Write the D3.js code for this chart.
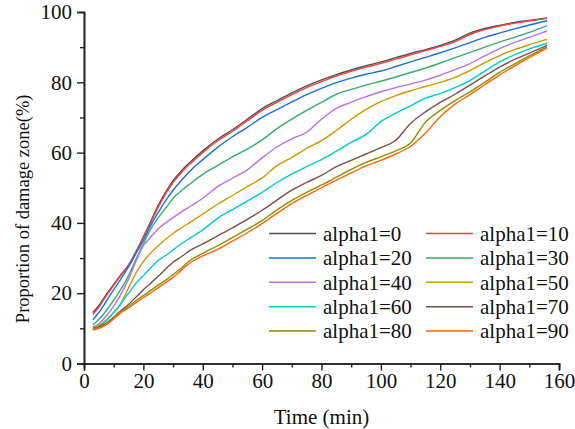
<!DOCTYPE html>
<html>
<head>
<meta charset="utf-8">
<script src="https://cdn.jsdelivr.net/npm/d3@7"></script>
<style>
  html, body { margin: 0; padding: 0; background: #fff; }
  svg { display: block; }
</style>
</head>
<body>
<svg id="chart" width="575" height="429"></svg>
<script>
const times = [3,5,7,10,12,15,18,20,22,25,28,30,33,36,40,45,50,55,60,65,70,75,80,85,90,95,100,105,110,115,120,125,130,135,140,145,150,156];

const a0  = [14.5,16.5,19.0,22.5,24.8,28.0,32.5,36.0,39.5,45.0,49.5,52.0,55.0,57.5,60.5,63.8,66.5,69.5,72.5,74.8,77.0,79.0,80.7,82.2,83.5,84.7,85.8,87.0,88.2,89.3,90.5,92.0,94.0,95.3,96.2,97.0,97.6,98.3];
const a10 = [14.0,16.0,18.6,22.2,24.6,28.0,32.6,36.0,39.2,44.5,49.0,51.5,54.5,57.0,60.0,63.3,66.0,69.0,72.0,74.3,76.5,78.5,80.2,81.8,83.1,84.3,85.4,86.6,87.8,89.0,90.2,91.6,93.6,95.0,96.0,96.8,97.5,98.2];
const a20 = [12.4,14.5,17.0,21.0,23.5,27.5,32.0,35.0,38.5,43.0,47.0,49.3,52.3,55.0,58.0,61.5,64.5,67.2,70.0,72.2,74.4,76.5,78.3,79.9,81.2,82.3,83.2,84.5,85.8,87.1,88.4,89.8,91.3,92.8,94.0,95.2,96.3,97.5];
const a30 = [11.0,12.5,14.5,18.0,20.5,25.0,30.5,34.0,37.5,41.5,44.7,47.0,49.3,51.3,53.8,56.3,58.8,61.0,63.6,66.8,69.5,72.0,74.3,76.6,78.0,79.2,80.3,81.5,82.8,84.0,85.5,87.0,88.5,90.0,91.5,92.8,94.2,96.1];
const a40 = [10.4,11.3,13.0,16.3,19.0,24.0,30.0,33.5,35.5,38.3,40.3,41.5,43.2,44.8,47.0,50.3,52.7,55.1,58.5,61.6,63.9,65.8,69.5,72.6,74.3,75.9,77.3,78.5,79.5,80.6,82.0,83.6,85.3,87.5,89.6,91.3,92.8,94.6];
const a50 = [10.0,10.8,12.0,14.5,16.5,21.5,26.5,29.0,31.0,33.5,35.7,37.0,38.7,40.3,42.5,45.3,47.8,50.3,52.8,56.3,58.6,61.2,63.4,66.3,69.5,72.3,74.5,76.2,77.6,78.8,80.0,81.4,83.3,85.6,87.6,89.3,90.7,92.2];
const a60 = [9.8,10.5,11.8,14.5,16.5,20.0,23.3,25.0,26.8,29.3,31.0,32.3,34.2,35.8,38.0,41.3,43.8,46.2,48.7,51.5,53.9,56.0,58.0,60.4,62.9,65.2,68.8,71.2,73.3,75.5,76.8,78.5,80.5,83.2,85.8,87.8,89.5,91.1];
const a70 = [10.0,10.5,11.2,13.2,14.7,16.8,19.3,21.0,22.5,24.8,27.3,28.8,30.5,32.3,34.0,36.3,38.6,41.0,43.6,46.5,49.3,51.5,53.5,56.0,57.8,59.6,61.4,63.5,68.3,71.6,74.3,76.6,79.2,81.8,84.3,86.5,88.3,90.5];
const a80 = [9.8,10.3,11.0,13.0,14.5,16.2,18.2,19.3,20.5,22.3,24.0,25.3,27.3,29.5,31.3,33.5,35.8,38.2,40.7,43.7,46.4,48.7,50.8,53.0,55.2,57.2,58.8,60.5,62.7,68.6,72.0,74.8,77.3,80.0,82.8,85.2,87.5,90.1];
const a90 = [9.5,10.0,10.8,12.7,14.2,15.8,17.6,18.7,19.8,21.6,23.3,24.5,26.7,28.8,30.6,32.5,34.8,37.2,39.8,42.7,45.5,47.8,50.0,52.2,54.2,56.2,57.8,59.6,61.8,65.5,70.2,73.8,76.5,79.3,82.1,84.6,87.0,89.8];

const seriesNames = ["alpha1=0","alpha1=10","alpha1=20","alpha1=30","alpha1=40","alpha1=50","alpha1=60","alpha1=70","alpha1=80","alpha1=90"];
const seriesValues = [a0,a10,a20,a30,a40,a50,a60,a70,a80,a90];
const colors = ["#515151","#F14040","#1A6FDF","#37AD6B","#B177DE","#CC9900","#00CBCC","#7D4E4E","#8E8E00","#FB6501"];
const xTicks = [0,20,40,60,80,100,120,140,160];
const yTicks = [0,20,40,60,80,100];
const xTitle = "Time (min)";
const yTitle = "Proportion of damage zone(%)";

const FONT = '"Liberation Serif"';
const svg = d3.select("#chart");
const x = d3.scaleLinear().domain([0,160]).range([84,559]);
const y = d3.scaleLinear().domain([0,100]).range([363.5,12]);

// lines
const line = d3.line().x(d => x(d[0])).y(d => y(d[1])).curve(d3.curveMonotoneX);
seriesValues.forEach((vals, i) => {
  svg.append("path")
    .datum(times.map((t, j) => [t, vals[j]]))
    .attr("fill", "none")
    .attr("stroke", colors[i])
    .attr("stroke-width", 1.4)
    .attr("d", line);
});

// axes
const fontSize = 21;
const xAxis = d3.axisBottom(x).tickValues(xTicks).tickSize(7).tickPadding(3).tickFormat(d3.format("d"));
const xMinor = d3.axisBottom(x).tickValues(d3.range(10,160,20)).tickSize(4).tickFormat("");
const yAxis = d3.axisLeft(y).tickValues(yTicks).tickSize(7).tickPadding(5).tickFormat(d3.format("d"));
const yMinor = d3.axisLeft(y).tickValues(d3.range(10,100,20)).tickSize(4).tickFormat("");

function styleAxis(g) {
  g.attr("font-family", null).attr("font-size", null);
  g.select(".domain").attr("stroke", "#222").attr("stroke-width", 1.6);
  g.selectAll(".tick line").attr("stroke", "#222").attr("stroke-width", 1.4);
  g.selectAll(".tick text").style("font-family", FONT).style("font-size", fontSize + "px").attr("fill", "#111");
}
svg.append("g").attr("transform", `translate(0,${y(0)})`).call(xAxis).call(styleAxis);
svg.append("g").attr("transform", `translate(0,${y(0)})`).call(xMinor).call(styleAxis);
svg.append("g").attr("transform", `translate(${x(0)},0)`).call(yAxis).call(styleAxis);
svg.append("g").attr("transform", `translate(${x(0)},0)`).call(yMinor).call(styleAxis);

// titles
svg.append("text").attr("x", x(80)).attr("y", 424).attr("text-anchor", "middle")
  .style("font-family", FONT).style("font-size", fontSize + "px").attr("fill", "#111").text(xTitle);
svg.append("text").attr("transform", `translate(29,${y(44)}) rotate(-90)`)
  .attr("text-anchor", "middle").style("font-family", FONT).style("font-size", "18.5px")
  .attr("fill", "#111").text(yTitle);

// legend
const legend = svg.append("g");
seriesNames.forEach((name, i) => {
  const col = i % 2, row = Math.floor(i / 2);
  const lx = col === 0 ? 269 : 426;
  const ly = 233.5 + row * 24.4;
  legend.append("line").attr("x1", lx).attr("x2", lx + 47).attr("y1", ly).attr("y2", ly)
    .attr("stroke", colors[i]).attr("stroke-width", 1.5);
  legend.append("text").attr("x", lx + 54).attr("y", ly).attr("dy", "0.35em")
    .style("font-family", FONT).style("font-size", fontSize + "px").attr("fill", "#111").text(name);
});
</script>
</body>
</html>
